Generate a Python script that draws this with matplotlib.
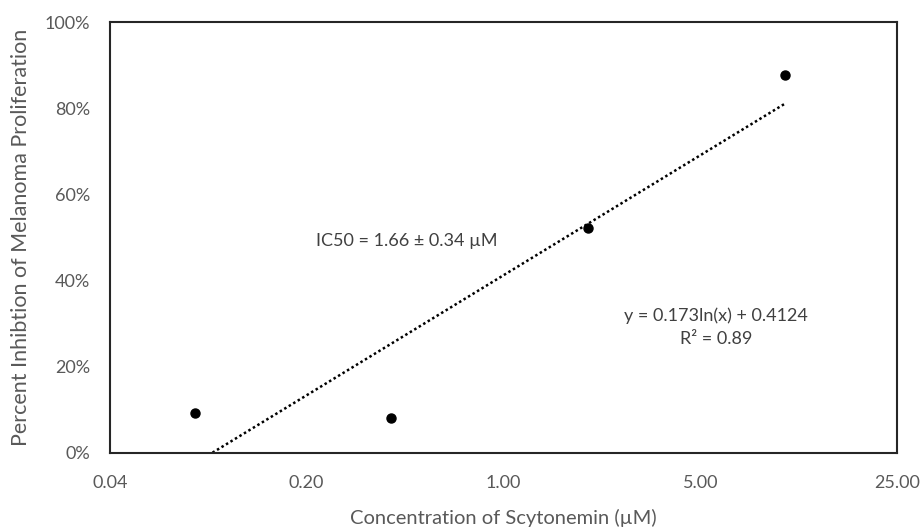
import numpy as np
import matplotlib.pyplot as plt
from matplotlib.ticker import FixedLocator, FixedFormatter, NullLocator

plt.rcParams['font.family'] = ['Lato', 'DejaVu Sans']

# data
concentration = [0.08, 0.4, 2.0, 10.0]          # uM
inhibition = [0.093, 0.081, 0.522, 0.877]        # fraction
fit_slope = 0.173
fit_intercept = 0.4124
x_ticks = [0.04, 0.2, 1.0, 5.0, 25.0]
x_tick_labels = ['0.04', '0.20', '1.00', '5.00', '25.00']
y_ticks = [0.0, 0.2, 0.4, 0.6, 0.8, 1.0]
y_tick_labels = ['0%', '20%', '40%', '60%', '80%', '100%']

label_color = '#595959'
text_color = '#404040'


def create_figure():
    fig = plt.figure(figsize=(9.23, 5.29), dpi=100)
    ax = fig.add_axes([0.119, 0.1437, 0.853, 0.8147])
    return fig, ax


fig, ax = create_figure()
ax.set_xscale('log')

# trendline over the data range (Excel style), clipped by the axes
xs = np.logspace(np.log10(concentration[0]), np.log10(concentration[-1]), 200)
ys = fit_slope * np.log(xs) + fit_intercept
ax.plot(xs, ys, linestyle=(0, (1, 1.1)), color='black', linewidth=1.8, zorder=2)

ax.plot(concentration, inhibition, 'o', color='black', markersize=6.5, zorder=3)

ax.set_xlim(x_ticks[0], x_ticks[-1])
ax.set_ylim(0, 1)
ax.xaxis.set_major_locator(FixedLocator(x_ticks))
ax.xaxis.set_major_formatter(FixedFormatter(x_tick_labels))
ax.xaxis.set_minor_locator(NullLocator())
ax.set_yticks(y_ticks)
ax.set_yticklabels(y_tick_labels)
ax.tick_params(axis='both', length=0, labelsize=13, labelcolor=label_color)
ax.tick_params(axis='x', pad=16)
ax.tick_params(axis='y', pad=14)

for s in ax.spines.values():
    s.set_linewidth(1.5)
    s.set_color('#262626')

ax.set_xlabel('Concentration of Scytonemin (\u00b5M)', fontsize=14.5, color=label_color, labelpad=13)
ax.set_ylabel('Percent Inhibtion of Melanoma Proliferation', fontsize=15.5, color=label_color, labelpad=10)

ax.text(0.262, 0.492, 'IC50 = 1.66 \u00b1 0.34 \u00b5M', transform=ax.transAxes,
        fontsize=13, color=text_color, ha='left', va='center')
ax.text(0.77, 0.318, 'y = 0.173ln(x) + 0.4124', transform=ax.transAxes,
        fontsize=13, color=text_color, ha='center', va='center')
ax.text(0.77, 0.265, 'R\u00b2 = 0.89', transform=ax.transAxes,
        fontsize=13, color=text_color, ha='center', va='center')

plt.savefig('out.png', dpi=100)
plt.close(fig)
